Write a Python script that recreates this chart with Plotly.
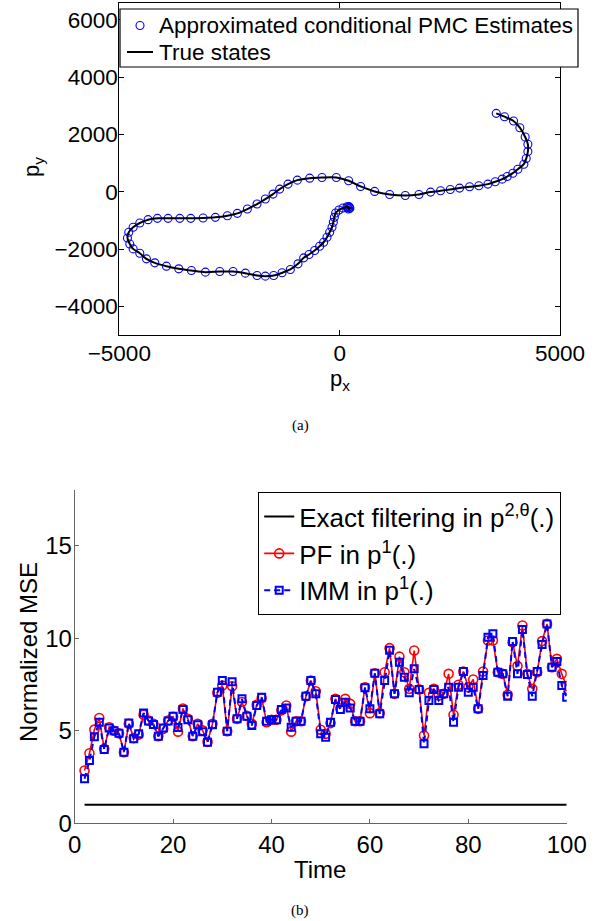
import plotly.graph_objects as go

# ---------------- (a) trajectory: positions ----------------
pos_x = [3553, 3741, 3946, 4089, 4210, 4271, 4271, 4233, 4180, 4044, 3930, 3802, 3689, 3530,
         3364, 3159, 2948, 2721, 2510, 2290, 2063, 1799, 1489, 1134, 794, 476, 204, -76,
         -401, -680, -960, -1172, -1361, -1512, -1686, -1875, -2094, -2321, -2547, -2820,
         -3099, -3379, -3628, -3893, -4135, -4346, -4535, -4686, -4785, -4815, -4762, -4686,
         -4535, -4384, -4195, -3931, -3651, -3364,
         -3046, -2721, -2419, -2139, -1874, -1686, -1497, -1307, -1119, -945, -816, -695,
         -567, -454, -363, -287, -227, -174, -144, -121, -91, -15, 76, 166, 227, 232, 200, 180, 210]
pos_y = [2737, 2620, 2470, 2237, 1913, 1658, 1403, 1159, 962, 788, 649, 533, 441, 348,
         267, 209, 174, 128, 81, 35, -12, -93, -128, -93, 12, 186, 383, 499,
         499, 475, 406, 267, 93, -81, -255, -429, -603, -754, -835, -893,
         -916, -928, -928, -928, -928, -974, -1090, -1241, -1415, -1612, -1821, -1994,
         -2145, -2342, -2481, -2597, -2690, -2748,
         -2806, -2783, -2783, -2841, -2922, -2945, -2922, -2829, -2713, -2516, -2307, -2191,
         -2052, -1901, -1762, -1589, -1415, -1241, -1067, -893, -742, -638, -568, -522, -545, -580, -600, -560, -520]

# ---------------- (b) normalized MSE ----------------
time = list(range(2, 101))
pf_mse = [2.85, 3.78, 5.06, 5.69, 4.02, 5.19, 5.00, 4.86, 3.84, 5.37,
          4.60, 4.79, 5.86, 5.55, 5.37, 4.70, 5.10, 5.55, 5.75, 4.95,
          6.20, 5.64, 4.70, 5.37, 5.02, 4.40, 5.37, 7.05, 7.44, 4.97,
          7.40, 5.64, 6.55, 5.80, 5.37, 6.40, 6.76, 5.46, 5.59, 5.59,
          6.10, 6.36, 4.95, 5.51, 5.51, 6.86, 7.71, 7.13, 5.05, 4.83,
          5.41, 6.72, 6.20, 6.72, 6.45, 5.51, 5.51, 7.35, 5.95, 8.10,
          5.95, 8.16, 9.46, 6.99, 9.00, 8.16, 7.26, 9.33, 7.23, 4.74,
          7.05, 7.26, 6.90, 6.99, 8.07, 5.86, 7.48, 8.20, 7.35, 7.77,
          6.18, 8.20, 9.87, 9.87, 8.16, 8.07, 6.94, 9.78, 8.49, 10.68,
          8.07, 7.26, 8.16, 9.84, 10.77, 8.43, 8.88, 8.07, 7.41]
imm_mse = [2.40, 3.39, 4.68, 5.46, 3.98, 5.15, 5.00, 4.86, 3.84, 5.42,
           4.56, 4.83, 5.96, 5.53, 5.33, 4.70, 5.15, 5.53, 5.78, 5.17,
           6.14, 5.59, 4.70, 5.32, 4.95, 4.38, 5.32, 7.08, 7.71, 4.97,
           7.64, 5.64, 6.72, 5.78, 5.28, 6.36, 6.81, 5.51, 5.59, 5.59,
           6.14, 6.23, 5.19, 5.51, 5.51, 6.86, 7.71, 6.99, 4.83, 4.65,
           5.46, 6.68, 6.14, 6.54, 6.23, 5.51, 5.51, 7.32, 6.18, 8.10,
           5.91, 7.71, 9.35, 6.99, 8.70, 7.89, 7.05, 8.34, 7.23, 4.29,
           6.63, 7.23, 6.63, 6.99, 7.35, 5.46, 7.35, 8.20, 7.08, 7.35,
           6.18, 7.98, 10.05, 10.23, 8.16, 8.07, 6.86, 9.82, 8.07, 10.47,
           8.04, 6.86, 8.20, 9.66, 10.77, 8.43, 8.74, 7.44, 6.81]
exact_mse = [1.0] * len(time)

W, H = 603, 921
FONT = "Liberation Sans, Arial, Helvetica, sans-serif"
SERIF = "Liberation Serif, Times New Roman, serif"

EST_NAME = "Approximated conditional PMC Estimates"
TRUE_NAME = "True states"


def fx(p):
    return p / W


def fy(p):
    return 1 - p / H


fig = go.Figure()

fig.add_trace(go.Scatter(
    x=pos_x, y=pos_y, mode="markers", xaxis="x", yaxis="y", showlegend=False,
    name=EST_NAME,
    marker=dict(symbol="circle-open", size=8, color="blue", line=dict(width=1.1, color="blue"))))
fig.add_trace(go.Scatter(
    x=pos_x, y=pos_y, mode="lines", xaxis="x", yaxis="y", showlegend=False,
    name=TRUE_NAME, line=dict(color="black", width=2, shape="spline", smoothing=0.8)))

fig.add_trace(go.Scatter(
    x=time, y=exact_mse, mode="lines", xaxis="x2", yaxis="y2", legend="legend2",
    name="Exact filtering in p<sup>2,θ</sup>(.)", line=dict(color="black", width=2)))
fig.add_trace(go.Scatter(
    x=time, y=pf_mse, mode="lines+markers", xaxis="x2", yaxis="y2", legend="legend2",
    name="PF in p<sup>1</sup>(.)", line=dict(color="red", width=1.6),
    marker=dict(symbol="circle-open", size=9, color="red", line=dict(width=1.6, color="red"))))
fig.add_trace(go.Scatter(
    x=time, y=imm_mse, mode="lines+markers", xaxis="x2", yaxis="y2", legend="legend2",
    name="IMM in p<sup>1</sup>(.)", line=dict(color="blue", width=2, dash="6px,4px"),
    marker=dict(symbol="square-open", size=7, color="blue", line=dict(width=2, color="blue"))))


def top_axis(**kw):
    d = dict(showgrid=False, zeroline=False, showline=True, ticks="inside", automargin=False,
             mirror="ticks", linecolor="black", linewidth=1.2, ticklen=5, tickcolor="black",
             tickfont=dict(family=FONT, size=22.5, color="black"))
    d.update(kw)
    return d


def bottom_axis(**kw):
    d = dict(showgrid=False, zeroline=False, showline=True, ticks="inside", automargin=False,
             linecolor="#666", linewidth=1, ticklen=4, tickcolor="#666",
             tickfont=dict(family=FONT, size=24, color="black"))
    d.update(kw)
    return d


# legend box of panel (a), drawn in page pixels
shapes = [
    dict(type="rect", xref="paper", yref="paper", x0=fx(120), x1=fx(578), y0=fy(67), y1=fy(9),
         line=dict(color="black", width=1.2), fillcolor="white", layer="above"),
    dict(type="circle", xref="paper", yref="paper", xsizemode="pixel", ysizemode="pixel",
         xanchor=fx(140), yanchor=fy(25.5), x0=-4, x1=4, y0=-4, y1=4,
         line=dict(color="blue", width=1.1), fillcolor="rgba(0,0,0,0)", layer="above"),
    dict(type="line", xref="paper", yref="paper", x0=fx(127), x1=fx(153), y0=fy(52), y1=fy(52),
         line=dict(color="black", width=2), layer="above"),
]

annotations = [
    dict(text=EST_NAME, x=fx(157), y=fy(25.5), xanchor="left", yanchor="middle",
         font=dict(family=FONT, size=22.5)),
    dict(text=TRUE_NAME, x=fx(157), y=fy(52), xanchor="left", yanchor="middle",
         font=dict(family=FONT, size=22.5)),
    dict(text="p<sub>x</sub>", x=fx(340), y=fy(380), xanchor="center", yanchor="middle",
         font=dict(family=FONT, size=22)),
    dict(text="p<sub>y</sub>", x=fx(33), y=fy(167), xanchor="center", yanchor="middle",
         textangle=-90, font=dict(family=FONT, size=22)),
    dict(text="Time", x=fx(320), y=fy(869), xanchor="center", yanchor="middle",
         font=dict(family=FONT, size=24)),
    dict(text="Normalized MSE", x=fx(28), y=fy(652), xanchor="center", yanchor="middle",
         textangle=-90, font=dict(family=FONT, size=24)),
    dict(text="(a)", x=fx(300), y=fy(425), xanchor="center", yanchor="middle",
         font=dict(family=SERIF, size=15)),
    dict(text="(b)", x=fx(300), y=fy(910), xanchor="center", yanchor="middle",
         font=dict(family=SERIF, size=15)),
]
for a in annotations:
    a.update(xref="paper", yref="paper", showarrow=False)

fig.update_layout(
    width=W, height=H, margin=dict(l=0, r=0, t=0, b=0, autoexpand=False),
    paper_bgcolor="white", plot_bgcolor="white",
    font=dict(family=FONT, color="black"),
    xaxis=top_axis(domain=[fx(119.3), fx(560)], range=[-5000, 5000],
                   tickvals=[-5000, 0, 5000], anchor="y", ticklabelstandoff=-2),
    yaxis=top_axis(domain=[fy(335), fy(2.7)], range=[-5000, 6600],
                   tickvals=[-4000, -2000, 0, 2000, 4000, 6000], anchor="x", ticklabelstandoff=-4),
    xaxis2=bottom_axis(domain=[fx(74.7), fx(566.7)], range=[0, 100],
                       tickvals=[0, 20, 40, 60, 80, 100], anchor="y2", ticklabelstandoff=0),
    yaxis2=bottom_axis(domain=[fy(823.3), fy(490)], range=[0, 18],
                       tickvals=[0, 5, 10, 15], anchor="x2", ticklabelstandoff=-3),
    legend2=dict(x=fx(258), y=fy(492), xanchor="left", yanchor="top",
                 bordercolor="black", borderwidth=1.2, bgcolor="white",
                 font=dict(family=FONT, size=26, color="black"), itemwidth=30,
                 tracegroupgap=0),
    shapes=shapes,
    annotations=annotations,
)

fig.write_html("out.html", config={"displayModeBar": False},
               post_script="document.body.style.margin='0';document.body.style.padding='0';")
